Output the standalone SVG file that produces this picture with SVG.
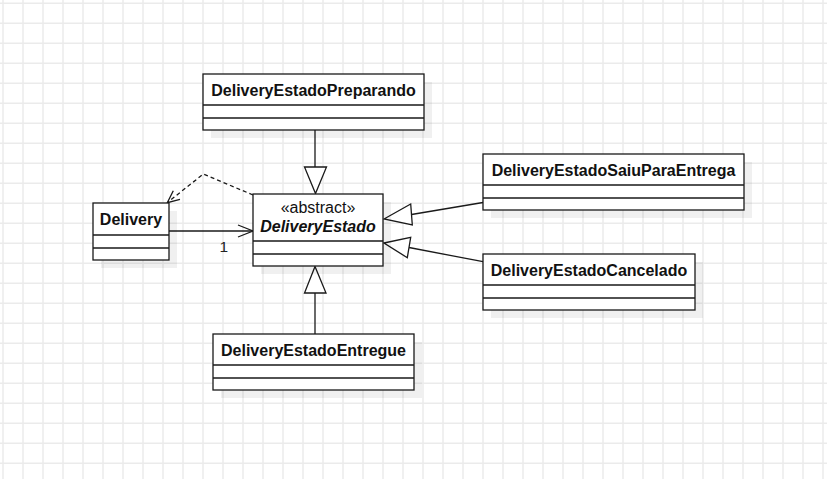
<svg xmlns="http://www.w3.org/2000/svg" width="827" height="479" viewBox="0 0 827 479">
  <style>
    .box { fill: #ffffff; stroke: #1a1a1a; stroke-width: 1.3; }
    .shadow { fill: #000000; fill-opacity: 0.06; }
    .div { stroke: #1a1a1a; stroke-width: 1.3; }
    .title { font-family: "Liberation Sans", Arial, sans-serif; font-size: 16px; font-weight: bold; fill: #111111; text-anchor: middle; }
    .stereo { font-family: "Liberation Sans", Arial, sans-serif; font-size: 16px; fill: #111111; text-anchor: middle; }
    .lbl { font-family: "Liberation Sans", Arial, sans-serif; font-size: 15.5px; fill: #222222; }
    .edge { fill: none; stroke: #1a1a1a; stroke-width: 1.3; }
    .tri { fill: #ffffff; stroke: #1a1a1a; stroke-width: 1.3; stroke-linejoin: miter; }
    .dash { fill: none; stroke: #1a1a1a; stroke-width: 1.3; stroke-dasharray: 4 3; }
  </style>
  <defs>
    <pattern id="grid" width="20" height="20" patternUnits="userSpaceOnUse">
      <path d="M3 0V20M0 3.3H20" stroke="#ebebeb" stroke-width="1.5" fill="none"/>
    </pattern>
  </defs>
  <rect width="827" height="479" fill="#ffffff"/>
  <rect width="827" height="479" fill="url(#grid)"/>

  <g id="connectors">
    <!-- Preparando -> Estado (generalization) -->
    <path class="edge" d="M315 130V167"/>
    <polygon class="tri" points="304.5,167 326.5,167 315.5,193.5"/>
    <!-- Entregue -> Estado -->
    <path class="edge" d="M315 334V293"/>
    <polygon class="tri" points="304.5,293 326,293 315,266.5"/>
    <!-- SaiuParaEntrega -> Estado -->
    <path class="edge" d="M483 202.5L411.5 214.5"/>
    <polygon class="tri" points="384,219 410.7,204 412.3,225"/>
    <!-- Cancelado -> Estado -->
    <path class="edge" d="M483 261.7L409 247.5"/>
    <polygon class="tri" points="384,243 410.7,237.3 407.3,257.7"/>
    <!-- Delivery -> Estado association -->
    <path class="edge" d="M169 231H253"/>
    <path class="edge" d="M238 225L253 231L238 237"/>
    <text class="lbl" x="219.5" y="252">1</text>
    <!-- Estado -> Delivery dependency -->
    <path class="dash" d="M253 195L203.3 174L167.3 202.7"/>
    <path class="edge" d="M173.3 190.7L167.3 202.7L180 199.3"/>
  </g>

  <g id="node-delivery">
    <rect class="shadow" x="101" y="211" width="76" height="57"/>
    <rect class="box" x="93" y="203" width="76" height="57"/>
    <path class="div" d="M93 235H169M93 248H169"/>
    <text class="title" x="131" y="225">Delivery</text>
  </g>

  <g id="node-preparando">
    <rect class="shadow" x="211" y="82" width="221" height="56"/>
    <rect class="box" x="203" y="74" width="221" height="56"/>
    <path class="div" d="M203 105H424M203 118H424"/>
    <text class="title" x="313.5" y="95.5">DeliveryEstadoPreparando</text>
  </g>

  <g id="node-estado">
    <rect class="shadow" x="261" y="202" width="130" height="72"/>
    <rect class="box" x="253" y="194" width="130" height="72"/>
    <path class="div" d="M253 241H383M253 254H383"/>
    <text class="stereo" x="318" y="213">«abstract»</text>
    <text class="title" x="318" y="231.5" font-style="italic">DeliveryEstado</text>
  </g>

  <g id="node-saiu">
    <rect class="shadow" x="491" y="162" width="261" height="56"/>
    <rect class="box" x="483" y="154" width="261" height="56"/>
    <path class="div" d="M483 185H744M483 198H744"/>
    <text class="title" x="613.5" y="175.5">DeliveryEstadoSaiuParaEntrega</text>
  </g>

  <g id="node-cancelado">
    <rect class="shadow" x="491" y="262" width="212" height="56"/>
    <rect class="box" x="483" y="254" width="212" height="56"/>
    <path class="div" d="M483 285H695M483 298H695"/>
    <text class="title" x="589" y="275.5">DeliveryEstadoCancelado</text>
  </g>

  <g id="node-entregue">
    <rect class="shadow" x="221" y="342" width="201" height="56"/>
    <rect class="box" x="213" y="334" width="201" height="56"/>
    <path class="div" d="M213 365H414M213 378H414"/>
    <text class="title" x="313.5" y="355.5">DeliveryEstadoEntregue</text>
  </g>
</svg>
